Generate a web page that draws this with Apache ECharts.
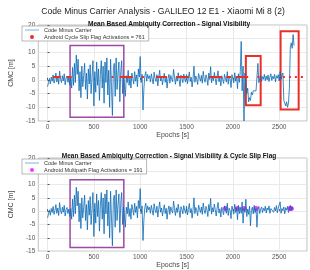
<!DOCTYPE html>
<html>
<head>
<meta charset="utf-8">
<script src="https://cdn.jsdelivr.net/npm/echarts@6/dist/echarts.min.js"></script>
<style>
  html, body { margin: 0; padding: 0; background: #fff; }
  #chart { width: 310px; height: 270px; }
</style>
</head>
<body>
<div id="chart"></div>
<script>
// sampling step of the epochs (s)
var epochStep = 10;

// CMC [m], epochs 0 .. 2070, same in both panels
var cmcCommon = [
  -2.5, -1.0, 0.5, -1.5, 1.0, -0.5, 1.8, -1.2, 0.3, 2.5,
  -0.8, 1.2, -1.6, 3.2, 0.2, -1.0, 1.5, -0.4, 2.2, -1.8,
  0.6, 1.4, -0.9, 0.8, -2.0,
  // 250 .. 830
  1.0, -3.0, 4.5, -2.0, 6.0, -1.0, 9.0, 2.0, 7.5, -4.0,
  3.0, -6.5, 5.0, -2.5, 1.5, 6.0, -3.5, 2.5, -7.0, 4.0,
  -1.5, 5.5, -5.0, 1.0, 7.0, -9.5, 3.0, -4.5, 6.5, -2.0,
  4.0, -7.5, 2.0, 7.0, -3.0, 5.0, -8.5, 6.5, -1.0, 8.0,
  -5.5, 3.5, -10.0, 7.5, -2.5, -13.0, 4.0, 6.0, -6.0, 8.0,
  -3.5, 2.5, 6.5, -8.0, 3.0, 7.0, -5.0, 1.5, -2.0,
  // 840 .. 1090
  -6.0, 1.5, -1.0, 3.5, -2.0, 1.0, -3.0, 2.5, 0.5, -1.5,
  3.0, -0.5, 1.8, -2.5, 4.0, 1.0, 8.5, -1.0, 2.0, -11.0,
  -3.0, 1.5, 3.0, -0.5, 2.0, 0.5,
  // 1100 .. 2070
  1.5, -0.8, 2.2, 0.3, -1.5, 2.8, 0.5, -0.6, 1.9, -2.2,
  0.8, 3.5, -0.4, 1.2, -1.8, 0.6, 2.4, -0.9, 1.1, -3.0,
  0.4, 2.0, -1.2, 1.6, 0.2, -0.7, 3.8, 0.9, -1.6, 1.3,
  -0.5, 2.6, 0.1, -2.4, 1.7, 0.6, -1.0, 2.1, 0.3, -0.8,
  1.9, -1.4, 0.7, 2.9, -0.6, 1.0, -2.6, 0.5, 5.0, -0.9,
  1.4, 0.2, -1.7, 2.3, 0.8, -0.5, 1.6, -1.2, 3.1, 0.4,
  -0.9, 1.8, 0.6, -2.0, 2.5, 0.1, 4.8, -1.1, 1.3, -0.3,
  2.7, 0.5, -1.8, 1.2, 3.3, -0.7, 0.9, -2.2, 1.5, 0.2,
  -1.3, 2.0, 0.6, -0.8, 3.0, -1.6, 1.1, 0.3, -2.8, 1.9,
  0.4, -1.1, 2.6, -0.5, 1.3, -3.2, 2.2, -0.9
];

// epochs 2080 .. 2660, top panel (ambiguity jumps)
var cmcTailTop = [
  3.0, 14.0, -4.0, 5.0, -15.0, 2.5, -1.5, -5.0, -3.0, -8.0,
  -6.5, -7.5, -4.5, -5.5, -4.0, -4.5, -3.5, -4.0, 1.0, 6.0,
  -1.0, 0.5, 1.5, -0.5, 1.2, 0.2, 2.0, -0.3, 1.4, 0.0,
  1.8, -0.6, 1.0, 2.2, -0.2, 1.3, 0.4, 2.0, -0.8, 1.5,
  0.6, 1.9, -0.4, 3.0, 0.2, 1.6, 2.5, -7.5, -8.5, -9.5,
  -8.0, -10.0, -8.5, -3.0, 12.0, 13.5, 11.5, 16.5, 12.5
];

// epochs 2080 .. 2650, bottom panel
var cmcTailBottom = [
  1.5, -0.8, 3.5, -4.5, 1.0, -0.5, 4.5, -2.0, 0.8, -1.2,
  1.9, -5.5, 0.4, 1.5, -1.0, 2.2, -0.6, 1.0, -6.0, 0.7,
  1.8, -0.9, 0.8, 1.6, -0.5, 1.1, 0.2, 1.9, -0.7, 1.2,
  0.4, 2.0, -0.8, 1.0, 0.3, 1.7, -0.4, 1.4, 0.1, 2.1,
  -0.6, 1.2, 0.5, 3.5, -0.8, 1.0, 0.2, 1.6, -1.0, 1.3,
  0.4, 1.8, -0.5, 1.1, 2.2, 0.3, 1.5, 0.6
];

// cycle slip flag epoch ranges (plotted at CMC = 1)
var slipDense = [[58, 142], [209, 260], [779, 918], [1170, 1290], [1390, 1525],
                 [1745, 1880], [1930, 1980], [2030, 2165]];
var slipSparse = [[690, 725], [1020, 1040], [2265, 2300], [2540, 2790]];
var slipLevel = 1;

// multipath flag epochs (bottom panel)
var multipathEpochs = [1920, 2048, 2122, 2250, 2615, 2630];
var multipathLevel = 1;

var xTicks = [0, 500, 1000, 1500, 2000, 2500];

var mainTitle = 'Code Minus Carrier Analysis - GALILEO 12 E1 - Xiaomi Mi 8 (2)';
var subTitleTop = 'Mean Based Ambiquity Correction - Signal Visibility';
var subTitleBottom = 'Mean Based Ambiquity Correction - Signal Visibility & Cycle Slip Flag';
var cmcName = 'Code Minus Carrier';
var slipName = 'Android Cycle Slip Flag Activations = 761';
var mpName = 'Android Multipath Flag Activations = 191';

function toXY(vals) {
    return vals.map(function (v, i) { return [i * epochStep, v]; });
}
function rangesToLine(ranges, level) {
    var out = [];
    ranges.forEach(function (r) {
        out.push([r[0], level], [r[1], level], [null, null]);
    });
    return out;
}

var font = 'Liberation Sans, Arial, sans-serif';
var blue = '#0a6ab5';
var red = '#e8302a';
var purple = '#9c4aa3';
var thinLine = 'path://M0,0L40,0L40,1.5L0,1.5Z';

function xAxisCfg(gi) {
    return {
        type: 'value', gridIndex: gi, min: -100, max: 2800,
        name: 'Epochs [s]', nameLocation: 'middle', nameGap: 9,
        nameTextStyle: { fontSize: 7, color: '#444', fontFamily: font },
        axisLine: { show: false },
        axisTick: { show: true, inside: true, length: 2, customValues: xTicks, lineStyle: { color: '#555' } },
        axisLabel: {
            fontSize: 6.5, color: '#555', margin: 3, fontFamily: font, customValues: xTicks,
            formatter: function (v) { return String(v); }
        },
        splitLine: { show: true, lineStyle: { color: '#e4e4e4', width: 0.8 } }
    };
}
function yAxisCfg(gi) {
    return {
        type: 'value', gridIndex: gi, min: -15, max: 20, interval: 5,
        name: 'CMC [m]', nameLocation: 'middle', nameGap: 14,
        nameTextStyle: { fontSize: 7, color: '#444', fontFamily: font },
        axisLine: { show: false },
        axisTick: { show: true, inside: true, length: 2, lineStyle: { color: '#555' } },
        axisLabel: { fontSize: 6.5, color: '#555', margin: 3, fontFamily: font },
        splitLine: { show: true, lineStyle: { color: '#e4e4e4', width: 0.8 } }
    };
}
function boxes(list) {
    return list.map(function (b) {
        return [
            { xAxis: b[0], yAxis: b[1], itemStyle: { color: 'rgba(0,0,0,0)', borderColor: b[4], borderWidth: b[5] } },
            { xAxis: b[2], yAxis: b[3] }
        ];
    });
}
function legendCfg(top, flagName) {
    return {
        orient: 'vertical', left: 22, top: top, itemGap: 1, itemWidth: 14, itemHeight: 4,
        padding: [1, 4, 1, 3], backgroundColor: '#fff', borderColor: '#888', borderWidth: 0.6,
        textStyle: { fontSize: 5.5, color: '#333', fontFamily: font },
        data: [{ name: cmcName, icon: thinLine }, { name: flagName, icon: 'circle' }]
    };
}

var chart = echarts.init(document.getElementById('chart'));
var option = {
    animation: false,
    title: [
        { text: mainTitle, left: 158, textAlign: 'center', top: 2, textStyle: { fontSize: 8.6, fontWeight: 'normal', color: '#222', fontFamily: font } },
        { text: subTitleTop, left: 164, textAlign: 'center', top: 16, textStyle: { fontSize: 6.6, fontWeight: 'bold', color: '#111', fontFamily: font } },
        { text: subTitleBottom, left: 164, textAlign: 'center', top: 148, textStyle: { fontSize: 6.5, fontWeight: 'bold', color: '#111', fontFamily: font } }
    ],
    legend: [legendCfg(26, slipName), legendCfg(159, mpName)],
    grid: [
        { left: 21, right: 3, top: 25, height: 96, show: true, borderColor: '#999', borderWidth: 0.6, backgroundColor: '#fff' },
        { left: 21, right: 3, top: 158, height: 94, show: true, borderColor: '#999', borderWidth: 0.6, backgroundColor: '#fff' }
    ],
    xAxis: [xAxisCfg(0), xAxisCfg(1)],
    yAxis: [yAxisCfg(0), yAxisCfg(1)],
    series: [
        {
            name: cmcName, type: 'line', xAxisIndex: 0, yAxisIndex: 0,
            data: toXY(cmcCommon.concat(cmcTailTop)),
            symbol: 'none', lineStyle: { color: blue, width: 0.8 }, itemStyle: { color: blue },
            markArea: {
                silent: true,
                data: boxes([
                    [243, -13.6, 823, 12.5, purple, 1.5],
                    [2140, -9.3, 2300, 8.7, red, 2],
                    [2515, -10.8, 2710, 17.7, red, 2]
                ])
            }
        },
        {
            name: slipName, type: 'line', xAxisIndex: 0, yAxisIndex: 0,
            data: rangesToLine(slipDense, slipLevel), connectNulls: false,
            symbol: 'none', lineStyle: { color: red, width: 2 }, itemStyle: { color: red }
        },
        {
            name: 'slipSparse', type: 'line', xAxisIndex: 0, yAxisIndex: 0,
            data: rangesToLine(slipSparse, slipLevel), connectNulls: false,
            symbol: 'none', lineStyle: { color: red, width: 2, type: [2, 4] }, itemStyle: { color: red }
        },
        {
            name: cmcName, type: 'line', xAxisIndex: 1, yAxisIndex: 1,
            data: toXY(cmcCommon.concat(cmcTailBottom)),
            symbol: 'none', lineStyle: { color: blue, width: 0.8 }, itemStyle: { color: blue },
            markArea: {
                silent: true,
                data: boxes([[243, -13.6, 823, 11.8, purple, 1.5]])
            }
        },
        {
            name: mpName, type: 'scatter', xAxisIndex: 1, yAxisIndex: 1,
            data: multipathEpochs.map(function (e) { return [e, multipathLevel]; }),
            symbolSize: 5, itemStyle: { color: '#ff00ff' }
        }
    ]
};
chart.setOption(option);
</script>
</body>
</html>
